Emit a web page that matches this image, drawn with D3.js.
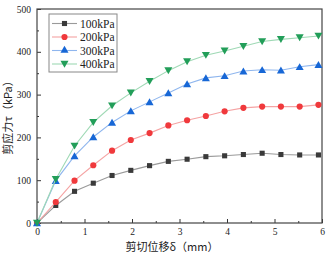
<!DOCTYPE html>
<html>
<head>
<meta charset="utf-8">
<script src="https://cdn.jsdelivr.net/npm/d3@7"></script>
<style>
  body { margin: 0; background: #fff; }
  svg { display: block; }
</style>
</head>
<body>
<svg id="chart"></svg>
<script>
// shear displacement (mm) for each reading
const disp = [0, 0.395, 0.79, 1.185, 1.58, 1.975, 2.37, 2.765, 3.16, 3.555, 3.95, 4.345, 4.74, 5.135, 5.53, 5.925];

// shear stress (kPa) for each normal stress
const s100 = [0, 41, 74, 93, 111, 123, 134, 144, 149, 155, 157, 160, 163, 160, 159, 159];
const s200 = [0, 49, 99, 135, 169, 194, 210, 228, 240, 250, 261, 269, 272, 272, 272, 276];
const s300 = [0, 99, 157, 201, 235, 262, 283, 304, 325, 339, 344, 355, 358, 357, 365, 370];
const s400 = [0, 102, 180, 235, 274, 304, 331, 356, 377, 392, 402, 413, 424, 429, 433, 437];

const seriesNames = ["100kPa", "200kPa", "300kPa", "400kPa"];
const xTicks = [0, 1, 2, 3, 4, 5, 6];
const yTicks = [0, 100, 200, 300, 400, 500];

const width = 330, height = 256;
const margin = { top: 9, right: 8, bottom: 33, left: 37 };

const svg = d3.select("#chart").attr("width", width).attr("height", height);

const x = d3.scaleLinear().domain([0, 6]).range([margin.left, width - margin.right]);
const y = d3.scaleLinear().domain([0, 500]).range([height - margin.bottom, margin.top]);

const series = [
    { name: seriesNames[0], values: s100, color: "#3a3a3a", line: "#9a9a9a", symbol: d3.symbolSquare, size: 26, rot: 0 },
    { name: seriesNames[1], values: s200, color: "#f0393c", line: "#f5a3a3", symbol: d3.symbolCircle, size: 30, rot: 0 },
    { name: seriesNames[2], values: s300, color: "#1767d6", line: "#8fb6ee", symbol: d3.symbolTriangle, size: 28, rot: 0 },
    { name: seriesNames[3], values: s400, color: "#229e59", line: "#9fd9b5", symbol: d3.symbolTriangle, size: 28, rot: 180 }
];

const font = "'Liberation Serif', 'DejaVu Serif', serif";
const cjk = "'Noto Sans CJK SC', serif";

// Axes (inward ticks)
svg.append("g")
    .attr("transform", `translate(0,${y(0)})`)
    .call(d3.axisBottom(x).tickValues(xTicks).tickFormat(d3.format("d")).tickSizeInner(-4).tickSizeOuter(0).tickPadding(5));
svg.append("g")
    .attr("transform", `translate(0,${y(0)})`)
    .call(d3.axisBottom(x).tickValues(d3.range(0.5, 6, 1)).tickSizeInner(-2).tickSizeOuter(0).tickFormat(""));

svg.append("g")
    .attr("transform", `translate(${margin.left},0)`)
    .call(d3.axisLeft(y).tickValues(yTicks).tickSizeInner(-4).tickSizeOuter(0).tickPadding(6));
svg.append("g")
    .attr("transform", `translate(${margin.left},0)`)
    .call(d3.axisLeft(y).tickValues(d3.range(50, 500, 100)).tickSizeInner(-2).tickSizeOuter(0).tickFormat(""));

svg.selectAll(".domain").remove();
svg.selectAll(".tick line").attr("stroke", "#333");
svg.selectAll(".tick text")
    .style("font-family", font)
    .style("font-size", "9.5px")
    .attr("fill", "#222");

// Frame
svg.append("rect")
    .attr("x", margin.left).attr("y", margin.top)
    .attr("width", width - margin.left - margin.right)
    .attr("height", height - margin.top - margin.bottom)
    .attr("fill", "none")
    .attr("stroke", "#444")
    .attr("stroke-width", 1.2);

// Lines and markers
const line = d3.line().x((d, i) => x(disp[i])).y(d => y(d));

series.forEach(s => {
    svg.append("path")
        .datum(s.values)
        .attr("d", line)
        .attr("fill", "none")
        .attr("stroke", s.line)
        .attr("stroke-width", 1.1);
    svg.append("g")
        .selectAll("path")
        .data(s.values)
        .join("path")
        .attr("d", d3.symbol().type(s.symbol).size(s.size))
        .attr("transform", (d, i) => `translate(${x(disp[i])},${y(d) + (s.rot ? -1 : (s.symbol === d3.symbolTriangle ? 1 : 0))}) rotate(${s.rot})`)
        .attr("fill", s.color);
});

// Legend
const legend = svg.append("g").attr("transform", "translate(49,14)");
legend.append("rect")
    .attr("width", 68).attr("height", 58)
    .attr("fill", "#fff")
    .attr("stroke", "#888")
    .attr("stroke-width", 1);
series.forEach((s, i) => {
    const g = legend.append("g").attr("transform", `translate(0,${9.5 + i * 13.5})`);
    g.append("line")
        .attr("x1", 3).attr("x2", 28)
        .attr("stroke", s.line).attr("stroke-width", 1.1);
    g.append("path")
        .attr("d", d3.symbol().type(s.symbol).size(s.size))
        .attr("transform", `translate(15.5,${s.rot ? -1 : 0}) rotate(${s.rot})`)
        .attr("fill", s.color);
    g.append("text")
        .attr("x", 31).attr("y", 4)
        .style("font-family", font)
        .style("font-size", "11.5px")
        .attr("fill", "#222")
        .text(s.name);
});

// Axis titles
svg.append("text")
    .attr("x", 172)
    .attr("y", 251)
    .attr("text-anchor", "middle")
    .style("font-family", cjk)
    .style("font-size", "11px")
    .attr("fill", "#222")
    .text("剪切位移δ（mm）");

svg.append("text")
    .attr("transform", `translate(12,115) rotate(-90)`)
    .attr("text-anchor", "middle")
    .style("font-family", cjk)
    .style("font-size", "11px")
    .attr("fill", "#222")
    .text("剪应力τ（kPa）");
</script>
</body>
</html>
